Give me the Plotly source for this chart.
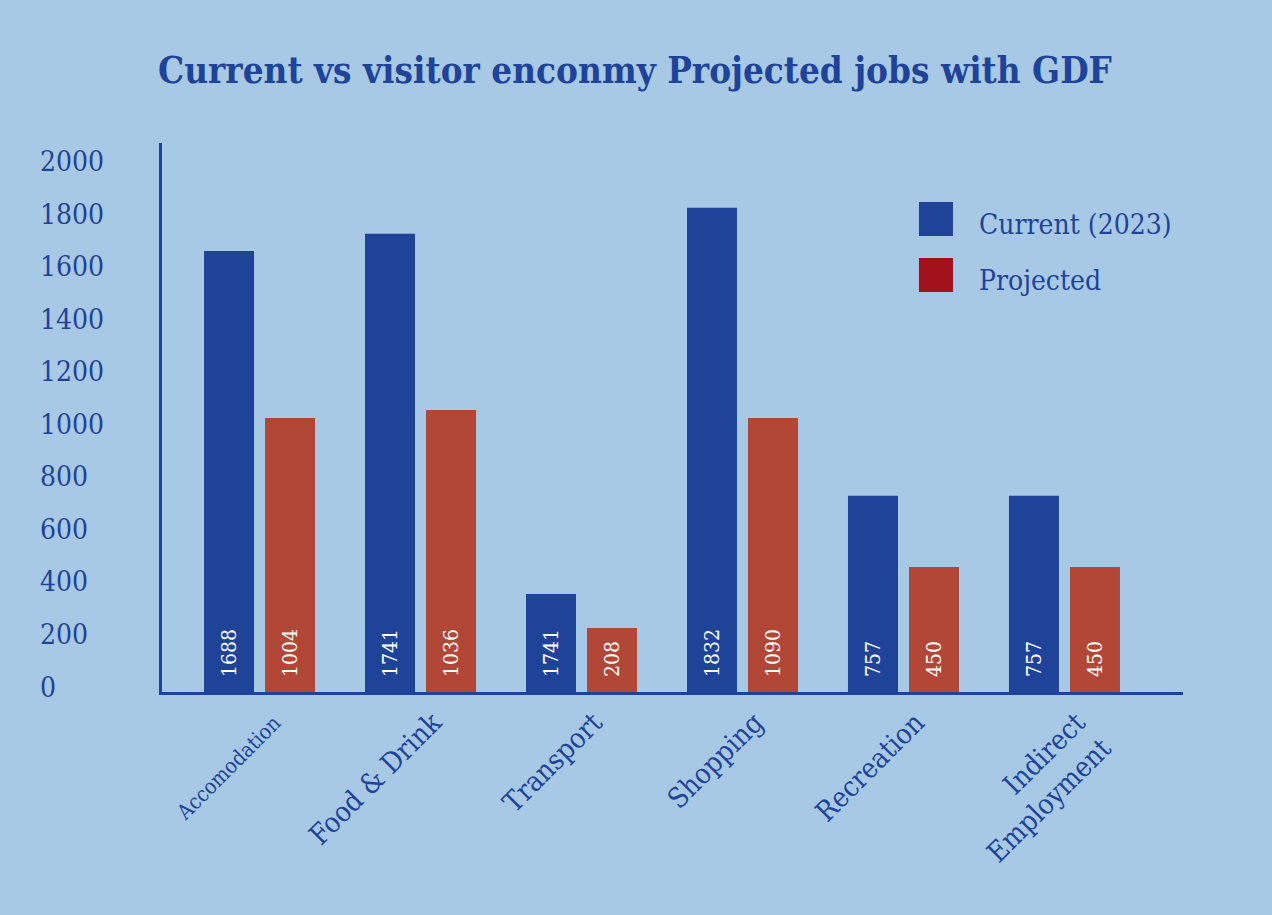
import plotly.graph_objects as go

# ---- data ----
categories = ["Accomodation", "Food & Drink", "Transport", "Shopping", "Recreation", "Indirect Employment"]
current_values = [1680, 1745, 373, 1844, 747, 747]
projected_values = [1044, 1074, 244, 1044, 476, 476]
current_labels = ["1688", "1741", "1741", "1832", "757", "757"]
projected_labels = ["1004", "1036", "208", "1090", "450", "450"]
series_names = ["Current (2023)", "Projected"]
y_ticks = [0, 200, 400, 600, 800, 1000, 1200, 1400, 1600, 1800, 2000]
title_text = "Current vs visitor enconmy Projected jobs with GDF"

# ---- style ----
FONT = "DejaVu Serif Condensed, DejaVu Serif, serif"
BLUE = "#1f4399"
RED = "#b34737"
LEGEND_RED = "#a1121b"
BG = "#a7c9e5"
TXT = "#1f4399"

x_idx = list(range(len(categories)))

tick_text = []
for c in categories:
    t = c.replace("&", "&amp;").replace("Indirect ", "Indirect<br>")
    if c == "Accomodation":
        t = "<span style='font-size:21px'>" + t + "</span>"
    tick_text.append(t)

pad = "\u00a0\u00a0"

fig = go.Figure()
fig.add_trace(go.Bar(
    x=x_idx, y=current_values, name=series_names[0],
    width=0.3106, offset=-0.348,
    marker=dict(color=BLUE, line=dict(width=0)),
    text=[pad + t for t in current_labels],
    textposition="inside", insidetextanchor="start", textangle=-90,
    textfont=dict(color="white", size=21, family=FONT),
    showlegend=False,
))
fig.add_trace(go.Bar(
    x=x_idx, y=projected_values, name=series_names[1],
    width=0.3106, offset=0.031,
    marker=dict(color=RED, line=dict(width=0)),
    text=[pad + t for t in projected_labels],
    textposition="inside", insidetextanchor="start", textangle=-90,
    textfont=dict(color="white", size=21, family=FONT),
    showlegend=False,
))

annotations = []
for v in y_ticks:
    annotations.append(dict(
        x=-0.1214, xref="paper", y=v, yref="y", yshift=5,
        text=str(v), showarrow=False, xanchor="left", yanchor="middle",
        font=dict(size=28, color=TXT, family=FONT),
    ))

# custom legend
legend_items = [(series_names[0], BLUE, 0.8306, 0.8925), (series_names[1], LEGEND_RED, 0.7286, 0.7905)]
shapes = []
for name, col, y0, y1 in legend_items:
    shapes.append(dict(type="rect", xref="paper", yref="paper",
                       x0=0.7414, x1=0.7747, y0=y0, y1=y1,
                       fillcolor=col, line=dict(width=0)))
    annotations.append(dict(x=0.7982, xref="paper", y=(y0 + y1) / 2, yref="paper", yshift=-5,
                            text=name, showarrow=False, xanchor="left", yanchor="middle",
                            font=dict(size=28, color=TXT, family=FONT)))

fig.update_layout(
    width=1272, height=915,
    margin=dict(l=162, r=89, t=143, b=223),
    paper_bgcolor=BG, plot_bgcolor=BG,
    title=dict(text="<b>" + title_text + "</b>", x=0.4992, xanchor="center",
               y=0.9235, yanchor="middle",
               font=dict(size=36.5, color=TXT, family=FONT)),
    showlegend=False,
    annotations=annotations,
    shapes=shapes,
    xaxis=dict(
        range=[-0.609, 5.733], tickmode="array", tickvals=x_idx, ticktext=tick_text,
        tickangle=-45, tickfont=dict(size=28, color=TXT, family=FONT),
        ticklabelshift=12,
        showline=True, linecolor=BLUE, linewidth=3, showgrid=False, zeroline=False,
        ticks="", layer="below traces",
    ),
    yaxis=dict(
        range=[0, 2091], showticklabels=False, tickvals=y_ticks,
        showline=True, linecolor=BLUE, linewidth=3, showgrid=False, zeroline=False,
        ticks="", layer="below traces",
    ),
)

fig.write_html("out.html", config={"displayModeBar": False},
               post_script="document.body.style.margin='0px';")
